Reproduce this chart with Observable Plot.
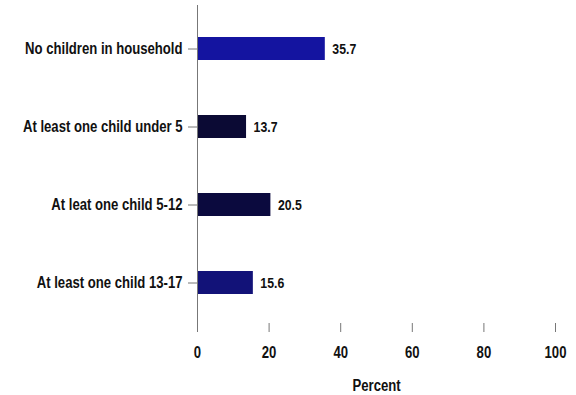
<!DOCTYPE html>
<html>
<head>
<meta charset="utf-8">
<script src="https://cdn.jsdelivr.net/npm/d3@7"></script>
<script src="https://cdn.jsdelivr.net/npm/@observablehq/plot@0.6"></script>
<style>
  html, body { margin: 0; padding: 0; background: #fff; }
  svg { display: block; }
</style>
</head>
<body>
<div id="chart"></div>
<script>
const categories = [
  "No children in household",
  "At least one child under 5",
  "At leat one child 5-12",
  "At least one child 13-17"
];
const values = [35.7, 13.7, 20.5, 15.6];
const barColors = ["#1414a0", "#0b0a34", "#0b0a3e", "#121278"];
const xTicks = [0, 20, 40, 60, 80, 100];

const data = categories.map((c, i) => ({category: c, value: values[i], color: barColors[i]}));
const font = "'Liberation Sans', Arial, sans-serif";

const chart = Plot.plot({
  width: 576,
  height: 395,
  marginLeft: 197,
  marginRight: 21,
  marginTop: 8,
  marginBottom: 72,
  style: {fontFamily: font, fontSize: "16px", color: "#111", background: "#fff"},
  x: {domain: [0, 100], ticks: xTicks, label: null},
  y: {domain: categories, paddingInner: 0.71, paddingOuter: 0.355, label: null},
  marks: [
    Plot.barX(data, {x: "value", y: "category", fill: "color"}),
    Plot.text(data, {x: "value", y: "category", text: d => d.value.toFixed(1), dx: 7, textAnchor: "start", fontSize: 15, fontWeight: "bold", fill: "#111"}),
    Plot.ruleX([0], {stroke: "#777", insetTop: -3}),
    Plot.ruleY([0], {stroke: "#777"}),
    Plot.axisX({ticks: xTicks, tickSize: 9, tickPadding: 14, stroke: "#777", fontSize: 16, fontWeight: "bold", fill: "#111", label: null}),
    Plot.axisY({tickSize: 9, tickPadding: 6, stroke: "#777", fontSize: 16, fontWeight: "bold", fill: "#111", label: null}),
    Plot.text(["Percent"], {frameAnchor: "bottom", dy: 72 - 5, fontSize: 16, fontWeight: "bold", fill: "#111"})
  ]
});
document.getElementById("chart").append(chart);

// Emulate a condensed typeface by narrowing each text horizontally around its anchor.
const squeeze = 0.82;
chart.querySelectorAll("text").forEach(t => {
  const b = t.getBBox();
  const anchor = getComputedStyle(t).textAnchor;
  const ox = anchor === "end" ? b.x + b.width : anchor === "middle" ? b.x + b.width / 2 : b.x;
  const prev = t.getAttribute("transform") || "";
  t.setAttribute("transform", `${prev} translate(${ox},0) scale(${squeeze},1) translate(${-ox},0)`.trim());
});
</script>
</body>
</html>
